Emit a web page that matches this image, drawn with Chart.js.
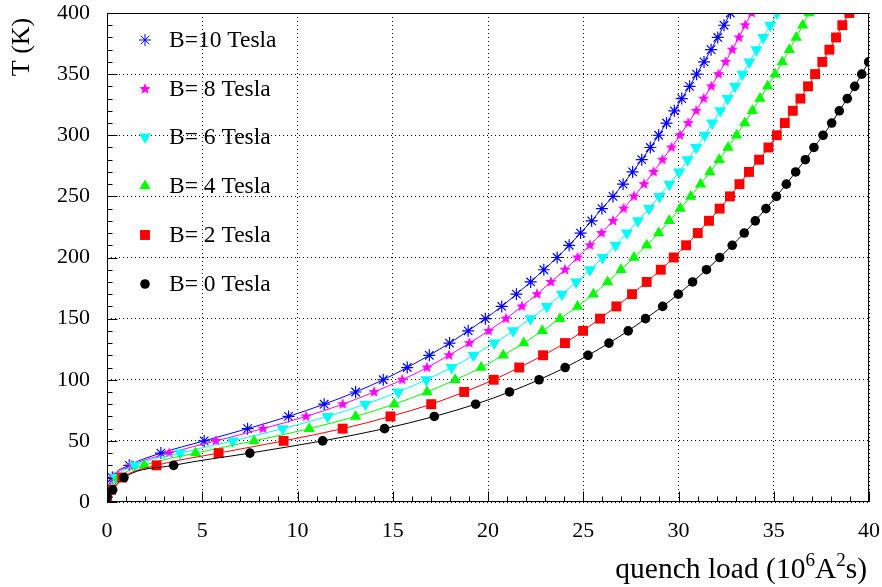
<!DOCTYPE html>
<html>
<head>
<meta charset="utf-8">
<script src="https://cdn.jsdelivr.net/npm/chart.js@4/dist/chart.umd.min.js"></script>
<style>
  html, body { margin: 0; padding: 0; background: #fff; }
</style>
</head>
<body>
<canvas id="c" width="882" height="587"></canvas>
<script>
// Temperature reached (K) for each sampled point
const tempK = [4, 10, 20, 30, 40, 50, 60, 70, 80, 90, 100, 110, 120, 130, 140, 150, 160, 170, 180, 190,
               200, 210, 220, 230, 240, 250, 260, 270, 280, 290, 300, 310, 320, 330, 340, 350, 360, 370, 380, 390, 400];

// Quench load (10^6 A^2 s) needed to reach each temperature, one list per field
const load0T  = [0, 0.30, 0.89, 3.50, 7.50, 11.32, 14.57, 17.18, 19.35, 21.13, 22.68, 24.05, 25.25, 26.35, 27.36, 28.27, 29.17, 29.99, 30.74, 31.47,
                 32.16, 32.82, 33.45, 34.03, 34.59, 35.14, 35.66, 36.15, 36.66, 37.11, 37.59, 38.04, 38.44, 38.86, 39.25, 39.62, 39.98, 40.33];
const load2T  = [0, 0.20, 0.80, 2.60, 5.86, 9.27, 12.37, 14.88, 17.02, 18.75, 20.30, 21.64, 22.89, 24.04, 24.99, 25.88, 26.74, 27.56, 28.33, 29.07,
                 29.75, 30.40, 31.01, 31.60, 32.16, 32.70, 33.20, 33.70, 34.23, 34.72, 35.16, 35.58, 36.00, 36.40, 36.80, 37.17, 37.55, 37.92, 38.27, 38.60, 38.97];
const load4T  = [0, 0.15, 0.60, 1.96, 4.65, 7.72, 10.62, 13.05, 15.08, 16.80, 18.28, 19.64, 20.80, 21.88, 22.85, 23.78, 24.70, 25.53, 26.28, 26.98,
                 27.66, 28.33, 28.96, 29.52, 30.09, 30.64, 31.16, 31.65, 32.14, 32.60, 33.05, 33.48, 33.88, 34.28, 34.68, 35.07, 35.45, 35.82, 36.18, 36.52, 36.86];
const load6T  = [0, 0.10, 0.45, 1.45, 3.83, 6.60, 9.22, 11.58, 13.56, 15.29, 16.76, 18.09, 19.24, 20.33, 21.32, 22.23, 23.09, 23.88, 24.63, 25.35,
                 26.02, 26.70, 27.29, 27.87, 28.45, 29.00, 29.52, 30.03, 30.48, 30.93, 31.37, 31.77, 32.19, 32.58, 32.97, 33.35, 33.72, 34.09, 34.45, 34.81, 35.17];
const load8T  = [0, 0.08, 0.35, 1.30, 3.27, 5.72, 8.19, 10.45, 12.37, 14.02, 15.50, 16.80, 17.95, 19.02, 20.03, 20.94, 21.78, 22.57, 23.30, 24.04,
                 24.70, 25.35, 25.96, 26.56, 27.12, 27.66, 28.19, 28.69, 29.16, 29.63, 30.08, 30.51, 30.93, 31.32, 31.72, 32.10, 32.47, 32.82, 33.17, 33.50, 33.84];
const load10T = [0, 0.05, 0.28, 1.17, 2.83, 5.10, 7.38, 9.53, 11.40, 13.05, 14.50, 15.76, 16.92, 17.98, 18.96, 19.86, 20.72, 21.49, 22.24, 22.93,
                 23.63, 24.26, 24.86, 25.44, 25.98, 26.56, 27.09, 27.59, 28.07, 28.52, 28.96, 29.37, 29.78, 30.17, 30.58, 30.95, 31.34, 31.71, 32.06, 32.39, 32.72];

const fieldLabels = ['B= 0 Tesla', 'B= 2 Tesla', 'B= 4 Tesla', 'B= 6 Tesla', 'B= 8 Tesla', 'B=10 Tesla'];

const SERIF = '"Liberation Serif", "DejaVu Serif", "Times New Roman", serif';

// Filled five-pointed star used as a point style
function makeStar(color, outer, inner) {
  const s = Math.ceil(outer * 2 + 2);
  const cv = document.createElement('canvas');
  cv.width = s; cv.height = s;
  const g = cv.getContext('2d');
  g.fillStyle = color;
  g.beginPath();
  for (let i = 0; i < 10; i++) {
    const r = i % 2 === 0 ? outer : inner;
    const ang = -Math.PI / 2 + i * Math.PI / 5;
    const px = s / 2 + r * Math.cos(ang), py = s / 2 + r * Math.sin(ang);
    if (i === 0) g.moveTo(px, py); else g.lineTo(px, py);
  }
  g.closePath();
  g.fill();
  return cv;
}
const magentaStar = makeStar('#ff00ff', 6, 2.6);

const seriesStyle = [
  { color: '#000000', pointStyle: 'circle',   radius: 4.8, rotation: 0 },
  { color: '#ff0000', pointStyle: 'rect',     radius: 7,   rotation: 0 },
  { color: '#00ff00', pointStyle: 'triangle', radius: 6.5, rotation: 0 },
  { color: '#00ffff', pointStyle: 'triangle', radius: 7,   rotation: 180 },
  { color: '#ff00ff', pointStyle: magentaStar, radius: 6,  rotation: 0 },
  { color: '#0000ff', pointStyle: 'star',     radius: 6,   rotation: 0 }
];

const loads = [load0T, load2T, load4T, load6T, load8T, load10T];

const datasets = loads.map((ld, k) => {
  const st = seriesStyle[k];
  const open = st.pointStyle === 'star';
  return {
    label: fieldLabels[k],
    data: ld.map((q, i) => ({ x: q, y: tempK[i] })),
    borderColor: st.color,
    backgroundColor: st.color,
    borderWidth: 1,
    pointStyle: st.pointStyle,
    pointRadius: st.radius,
    pointRotation: st.rotation,
    pointBackgroundColor: st.color,
    pointBorderColor: st.color,
    pointBorderWidth: open ? 1.2 : 0,
    cubicInterpolationMode: 'monotone',
    clip: 0
  };
});

function drawMarker(ctx, st, x, y) {
  ctx.save();
  ctx.fillStyle = st.color;
  ctx.strokeStyle = st.color;
  const open = st.pointStyle === 'star';
  if (Chart.helpers && Chart.helpers.drawPoint) {
    Chart.helpers.drawPoint(ctx, {
      pointStyle: st.pointStyle, radius: st.radius, rotation: st.rotation,
      borderWidth: open ? 1.2 : 0
    }, x, y);
  } else {
    ctx.beginPath(); ctx.arc(x, y, st.radius, 0, Math.PI * 2); ctx.fill();
  }
  ctx.restore();
}

const decor = {
  id: 'decor',
  afterDraw(chart) {
    const { ctx, chartArea: a, scales: { x, y } } = chart;
    ctx.save();
    ctx.strokeStyle = '#000';
    ctx.lineWidth = 1;
    const L = Math.round(a.left) + 0.5, R = Math.round(a.right) - 0.5;
    const T = Math.round(a.top) + 0.5, B = Math.round(a.bottom) - 0.5;
    ctx.strokeRect(L, T, R - L, B - T);

    // tick marks pointing into the plot
    ctx.beginPath();
    for (let v = 0; v <= 40; v += 1) {
      const px = Math.round(x.getPixelForValue(v)) + 0.5;
      const len = v % 5 === 0 ? 10 : 5;
      ctx.moveTo(px, B); ctx.lineTo(px, B - len);
    }
    for (let v = 0; v <= 400; v += 10) {
      const py = Math.round(y.getPixelForValue(v)) + 0.5;
      const len = v % 50 === 0 ? 10 : 5;
      ctx.moveTo(L, py); ctx.lineTo(L + len, py);
    }
    ctx.stroke();

    // legend, highest field first
    ctx.font = '23.5px ' + SERIF;
    ctx.textBaseline = 'middle';
    ctx.textAlign = 'left';
    const rows = [40, 89, 137, 186, 235, 284];
    for (let i = 0; i < 6; i++) {
      const k = 5 - i;
      drawMarker(ctx, seriesStyle[k], 145, rows[i]);
      ctx.fillStyle = '#000';
      ctx.fillText(fieldLabels[k], 169, rows[i] + 1);
    }

    // y axis title
    ctx.save();
    ctx.translate(22, 47);
    ctx.rotate(-Math.PI / 2);
    ctx.font = '26px ' + SERIF;
    ctx.textAlign = 'center';
    ctx.textBaseline = 'middle';
    ctx.fillText('T (K)', 0, 0);
    ctx.restore();

    // x axis title with superscripts
    const big = '29.5px ' + SERIF, small = '19px ' + SERIF;
    const parts = [
      { t: 'quench load (10', f: big, dy: 0 },
      { t: '6', f: small, dy: -12 },
      { t: 'A', f: big, dy: 0 },
      { t: '2', f: small, dy: -12 },
      { t: 's)', f: big, dy: 0 }
    ];
    let total = 0;
    parts.forEach(p => { ctx.font = p.f; p.w = ctx.measureText(p.t).width; total += p.w; });
    let cx = 867 - total;
    ctx.fillStyle = '#000';
    ctx.textAlign = 'left';
    ctx.textBaseline = 'alphabetic';
    parts.forEach(p => { ctx.font = p.f; ctx.fillText(p.t, cx, 578 + p.dy); cx += p.w; });
    ctx.restore();
  }
};

const tickFont = { family: SERIF, size: 22 };

new Chart(document.getElementById('c'), {
  type: 'line',
  data: { datasets },
  options: {
    responsive: false,
    animation: false,
    events: [],
    layout: { padding: 0 },
    plugins: { legend: { display: false }, tooltip: { enabled: false } },
    scales: {
      x: {
        type: 'linear', min: 0, max: 40,
        ticks: { stepSize: 5, font: tickFont, color: '#000', padding: 16, maxRotation: 0 },
        grid: { color: '#000', lineWidth: 1, drawTicks: false },
        border: { display: false, dash: [1, 3] },
        afterFit(s) { s.height = 85; s.paddingLeft = 0; s.paddingRight = 13; }
      },
      y: {
        type: 'linear', min: 0, max: 400,
        ticks: { stepSize: 50, font: tickFont, color: '#000', padding: 17 },
        grid: { color: '#000', lineWidth: 1, drawTicks: false },
        border: { display: false, dash: [1, 3] },
        afterFit(s) { s.width = 107; s.paddingTop = 13; s.paddingBottom = 0; }
      }
    }
  },
  plugins: [decor]
});
</script>
</body>
</html>
